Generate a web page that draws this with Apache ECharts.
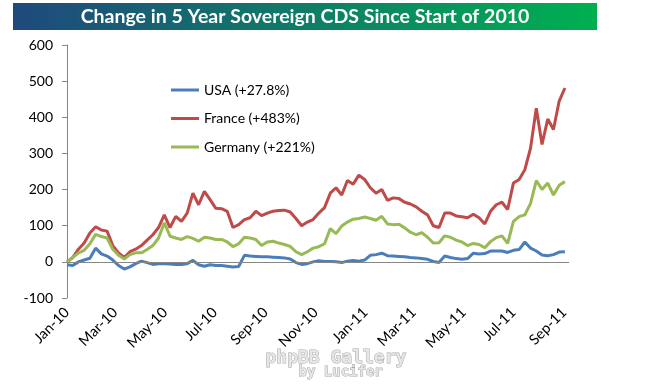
<!DOCTYPE html>
<html>
<head>
<meta charset="utf-8">
<script src="https://cdn.jsdelivr.net/npm/echarts@6/dist/echarts.min.js"></script>
<style>
html,body{margin:0;padding:0;background:#fff;}
#c{width:661px;height:384px;}
</style>
</head>
<body>
<div id="c"></div>
<script>
// Weekly observation dates
var dates = [
'2010-01-01','2010-01-08','2010-01-15','2010-01-22','2010-01-29',
'2010-02-05','2010-02-12','2010-02-19','2010-02-26',
'2010-03-05','2010-03-12','2010-03-19','2010-03-26',
'2010-04-02','2010-04-09','2010-04-16','2010-04-23','2010-04-30',
'2010-05-07','2010-05-14','2010-05-21','2010-05-28',
'2010-06-04','2010-06-11','2010-06-18','2010-06-25',
'2010-07-02','2010-07-09','2010-07-16','2010-07-23','2010-07-30',
'2010-08-06','2010-08-13','2010-08-20','2010-08-27',
'2010-09-03','2010-09-10','2010-09-17','2010-09-24',
'2010-10-01','2010-10-08','2010-10-15','2010-10-22','2010-10-29',
'2010-11-05','2010-11-12','2010-11-19','2010-11-26',
'2010-12-03','2010-12-10','2010-12-17','2010-12-24','2010-12-31',
'2011-01-07','2011-01-14','2011-01-21','2011-01-28',
'2011-02-04','2011-02-11','2011-02-18','2011-02-25',
'2011-03-04','2011-03-11','2011-03-18','2011-03-25',
'2011-04-01','2011-04-08','2011-04-15','2011-04-22','2011-04-29',
'2011-05-06','2011-05-13','2011-05-20','2011-05-27',
'2011-06-03','2011-06-10','2011-06-17','2011-06-24',
'2011-07-01','2011-07-08','2011-07-15','2011-07-22','2011-07-29',
'2011-08-05','2011-08-12','2011-08-19','2011-08-26',
'2011-09-02'
];

// % change in 5Y sovereign CDS since start of 2010
var usa = [
-8,-10,0,5,10,38,22,16,5,-10,
-20,-14,-5,2,-2,-7,-5,-5,-6,-7,
-7,-5,4,-8,-12,-8,-10,-10,-12,-14,
-13,18,16,15,14,14,13,12,11,8,
-2,-7,-5,0,3,1,1,0,-2,2,
4,2,5,18,20,24,17,16,15,14,
12,11,9,7,1,-2,16,12,9,7,
9,24,22,23,30,30,30,26,32,34,
55,38,30,19,17,20,27,28
];
var france = [
0,12,35,52,80,97,88,85,45,25,
12,28,35,45,60,75,95,130,95,126,
112,135,190,158,195,172,148,147,140,95,
103,117,122,140,128,135,140,142,143,138,
120,100,110,117,135,150,190,205,185,225,
215,240,228,205,190,200,170,177,175,165,
160,152,140,130,100,95,135,135,127,125,
122,132,122,105,140,158,165,145,218,228,
255,315,425,325,395,366,445,481
];
var germany = [
0,12,25,32,50,76,70,66,35,18,
8,20,25,25,34,45,66,108,71,66,
62,70,65,57,68,66,62,62,55,42,
50,68,66,62,45,55,57,52,48,43,
28,20,28,38,42,50,92,78,99,110,
118,120,124,120,115,126,105,103,104,94,
82,75,81,68,52,53,72,68,60,55,
45,51,48,39,56,67,72,51,112,125,
130,162,225,200,218,185,212,222
];

var seriesNames = ['USA (+27.8%)', 'France (+483%)', 'Germany (+221%)'];
var tickDates = ['2010-01-01','2010-03-01','2010-05-01','2010-07-01','2010-09-01','2010-11-01',
                 '2011-01-01','2011-03-01','2011-05-01','2011-07-01','2011-09-01'];
var tickLabels = ['Jan-10','Mar-10','May-10','Jul-10','Sep-10','Nov-10',
                  'Jan-11','Mar-11','May-11','Jul-11','Sep-11'];
var axisStart = '2010-01-01', axisEnd = '2011-09-07';
var yTicks = [-100, 0, 100, 200, 300, 400, 500, 600];

// day number since axis start (date axis, like Excel)
function dayNum(s){ var p = s.split('-'); return Math.round(Date.UTC(+p[0], +p[1]-1, +p[2]) / 86400000); }
var d0 = dayNum(axisStart);
function xd(s){ return dayNum(s) - d0; }
var tickX = tickDates.map(xd);
function pairs(arr){ return dates.map(function(d,i){ return [xd(d), arr[i]]; }); }

var chart = echarts.init(document.getElementById('c'), null, {renderer:'canvas'});
var colors = ['#4A7EBB', '#BE4B48', '#98B954'];
var lineIcon = 'path://M0,0 L28,0 L28,3 L0,3 Z';
var option = {
  animation: false,
  backgroundColor: '#ffffff',
  color: colors,
  textStyle: {fontFamily: 'Lato'},
  graphic: [
    {type:'rect', left: 13, top: 3, shape:{width:584, height:27}, z: 0,
     style:{fill: new echarts.graphic.LinearGradient(0,0,1,0,[{offset:0,color:'#1F497D'},{offset:1,color:'#00B050'}])}},
    {type:'text', x: 305, y: 17, z: 1,
     style:{text:'Change in 5 Year Sovereign CDS Since Start of 2010', fill:'#ffffff',
            font:'bold 19.5px Lato', align:'center', verticalAlign:'middle'}},
    {type:'text', left: 265, top: 349, z: 5,
     style:{text:'phpBB Gallery', fill:'#e6e6e6', stroke:'#a8a8a8', lineWidth:1,
            font:'bold 18px "DejaVu Sans Mono"'}},
    {type:'text', left: 298, top: 365, z: 5,
     style:{text:'by Lucifer', fill:'#e6e6e6', stroke:'#a8a8a8', lineWidth:1,
            font:'bold 14px "DejaVu Sans Mono"'}}
  ],
  legend: {
    orient: 'vertical', left: 171, top: 83, padding: 0,
    itemWidth: 28, itemHeight: 3, itemGap: 14.5, icon: lineIcon,
    textStyle: {fontFamily:'Lato', fontSize: 14, lineHeight: 14, color:'#000'},
    data: seriesNames
  },
  grid: {left: 67, right: 92, top: 45, bottom: 86, containLabel: false, outerBoundsMode: 'none'},
  xAxis: {
    type: 'value',
    min: 0, max: xd(axisEnd),
    axisLine: {show: false},
    axisTick: {show: false},
    splitLine: {show: false},
    axisLabel: {
      customValues: tickX,
      rotate: 45, margin: 12,
      fontFamily: 'Lato', fontSize: 14.5, color: '#000',
      formatter: function(v){ var k = tickX.indexOf(Math.round(v)); return k >= 0 ? tickLabels[k] : ''; }
    }
  },
  yAxis: {
    type: 'value', min: yTicks[0], max: yTicks[yTicks.length-1], interval: 100,
    axisLine: {show: true, lineStyle: {color:'#868686', width: 1}},
    axisTick: {show: true, inside: false, length: 5, lineStyle: {color:'#868686'}},
    splitLine: {show: false},
    axisLabel: {margin: 14, fontFamily:'Lato', fontSize: 14, color:'#000'}
  },
  series: [
    {name: seriesNames[0], type:'line', data: pairs(usa), symbol:'none', lineStyle:{width:3},
     markLine: {silent:true, symbol:['none','none'], label:{show:false},
                lineStyle:{color:'#868686', width:1, type:'solid'}, data:[{yAxis:0}]}},
    {name: seriesNames[1], type:'line', data: pairs(france), symbol:'none', lineStyle:{width:3}},
    {name: seriesNames[2], type:'line', data: pairs(germany), symbol:'none', lineStyle:{width:3}}
  ]
};
chart.setOption(option);
</script>
</body>
</html>
